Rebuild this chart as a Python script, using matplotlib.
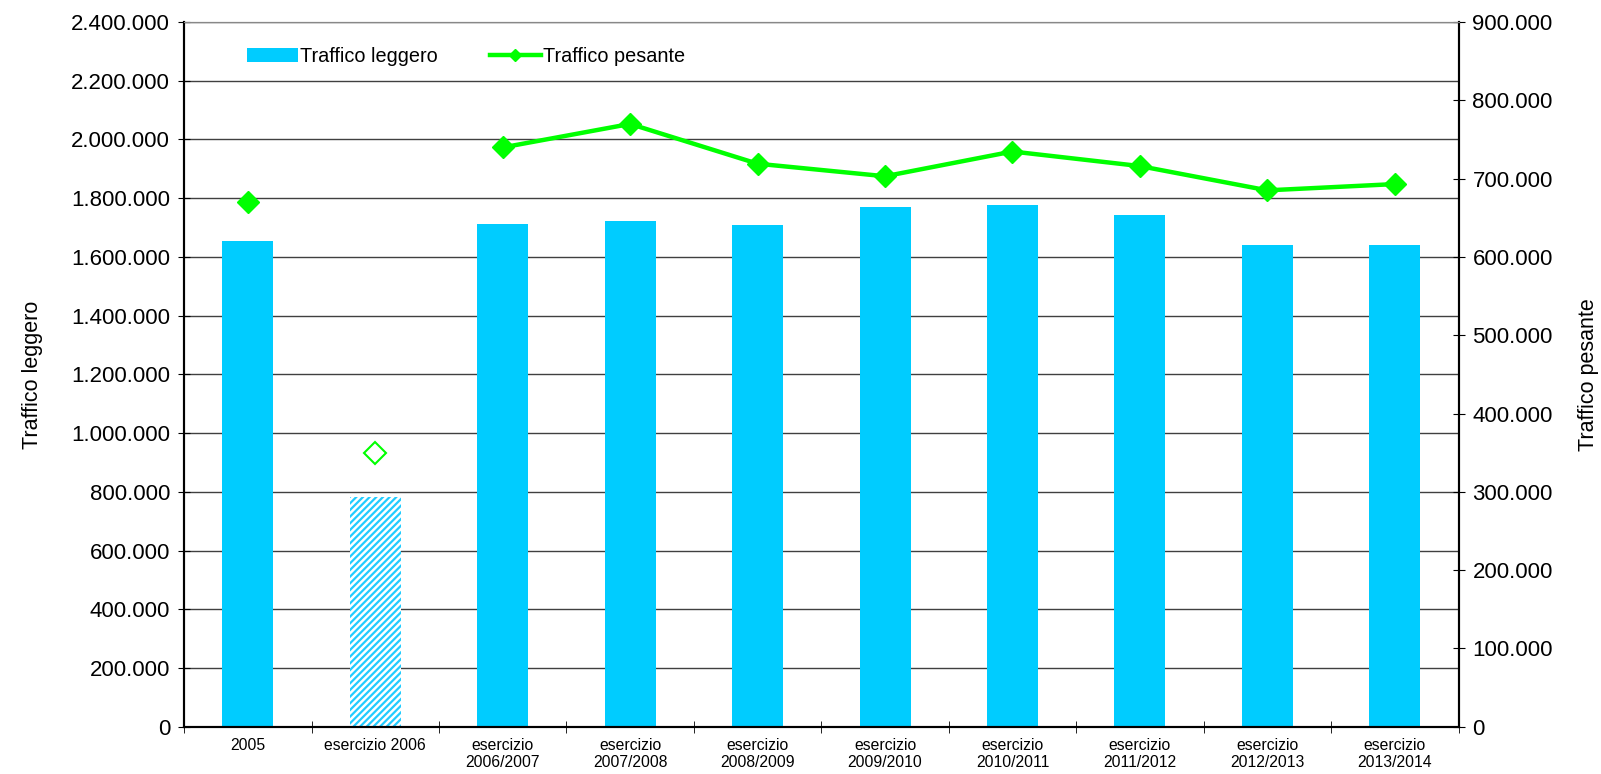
import matplotlib.pyplot as plt
import matplotlib.ticker as mticker
from matplotlib.lines import Line2D
from matplotlib.patches import Patch
import numpy as np

plt.rcParams['font.family'] = ['Liberation Sans', 'DejaVu Sans']
plt.rcParams['hatch.linewidth'] = 1.6

categories = ['2005', 'esercizio 2006', 'esercizio\n2006/2007', 'esercizio\n2007/2008',
              'esercizio\n2008/2009', 'esercizio\n2009/2010', 'esercizio\n2010/2011',
              'esercizio\n2011/2012', 'esercizio\n2012/2013', 'esercizio\n2013/2014']
leggero = [1653000, 781000, 1712000, 1723000, 1709000, 1771000, 1778000, 1744000, 1639000, 1640000]
pesante = [669500, 349000, 739800, 769800, 719000, 703000, 734600, 716000, 685000, 693000]

blue = '#00CCFF'
green = '#00FF00'


def fmt(v, pos):
    return '{:,.0f}'.format(v).replace(',', '.')


x = np.arange(len(categories))
fig = plt.figure(figsize=(16.01, 7.74), dpi=100)
ax = fig.add_axes([0.115, 0.061, 0.796, 0.9106])
ax2 = ax.twinx()

# bars
for i in range(len(x)):
    if i == 1:
        ax.bar(x[i], leggero[i], width=0.4, facecolor='white', edgecolor='#22CCFF',
               hatch='/////', linewidth=0, zorder=2)
    else:
        ax.bar(x[i], leggero[i], width=0.4, color=blue, zorder=2)

ax.set_ylim(0, 2400000)
ax.set_xlim(-0.5, len(x) - 0.5)
ax.yaxis.set_major_locator(mticker.MultipleLocator(200000))
ax.yaxis.set_major_formatter(mticker.FuncFormatter(fmt))
ax.grid(axis='y', color='#404040', linewidth=1, zorder=0)
ax.set_axisbelow(True)
ax.set_xticks(x)
ax.set_xticklabels(categories, fontsize=11.3)
ax.set_xticks(np.arange(-0.5, len(x)), minor=True)
ax.tick_params(axis='x', which='major', length=0, pad=8)
ax.tick_params(axis='x', which='minor', length=8, direction='inout')
ax.tick_params(axis='y', labelsize=16, direction='inout', length=8, pad=6)
ax.set_ylabel('Traffico leggero', fontsize=15.5, labelpad=20)

# line on secondary axis
ax2.plot(x[2:], pesante[2:], color=green, linewidth=3.2, marker='D',
         markersize=11, zorder=3)
ax2.plot(x[0], pesante[0], color=green, marker='D', markersize=11, linestyle='none')
ax2.plot(x[1], pesante[1], marker='D', markersize=11, linestyle='none',
         markerfacecolor='white', markeredgecolor=green, markeredgewidth=1.5)
ax2.set_ylim(0, 900000)
ax2.yaxis.set_major_locator(mticker.MultipleLocator(100000))
ax2.yaxis.set_major_formatter(mticker.FuncFormatter(fmt))
ax2.tick_params(axis='y', labelsize=16, direction='inout', length=8, pad=6)
ax2.set_ylabel('Traffico pesante', fontsize=15.5, labelpad=18)

for a in (ax, ax2):
    a.spines['top'].set_color('#888888')
    a.spines['left'].set_linewidth(1.5)
    a.spines['right'].set_linewidth(1.5)
    a.spines['bottom'].set_linewidth(1.5)

handles = [Patch(facecolor=blue, edgecolor='none'),
           Line2D([0], [0], color=green, linewidth=3.2, marker='D', markersize=6)]
ax2.legend(handles, ['Traffico leggero', 'Traffico pesante'], loc='upper left',
           bbox_to_anchor=(0.035, 0.99), ncol=2, frameon=False, fontsize=14.3,
           handlelength=2.6, handletextpad=0.1, columnspacing=2.6)

fig.savefig('out.png', dpi=100)
